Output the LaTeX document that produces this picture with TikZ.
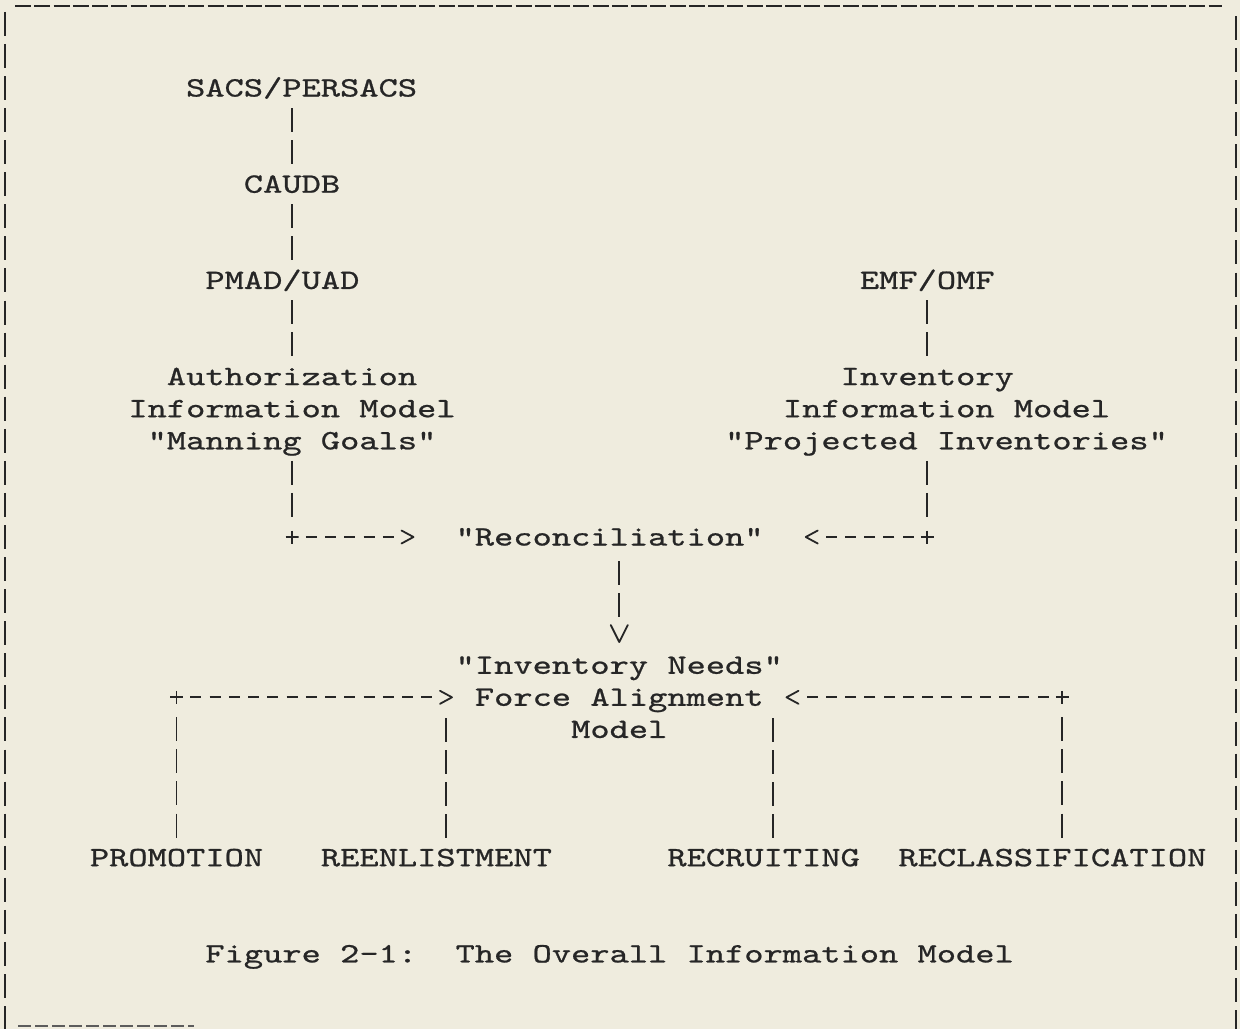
\documentclass[tikz,border=0pt]{standalone}
\usepackage{fontspec}
\usetikzlibrary{calc}
\newfontfamily\diagtt{lmmono10-regular.otf}[FakeStretch=1.3095,FakeBold=0.8]
\newcommand{\diagfont}{\diagtt\fontsize{28}{32}\selectfont\frenchspacing}
\definecolor{paper}{RGB}{239,236,222}
\definecolor{ink}{RGB}{38,38,38}
\pgfdeclarearrow{
  name = ChevH,
  setup code = {
    \pgfarrowssettipend{0pt}
    \pgfarrowssetlineend{-12pt}
    \pgfarrowssetbackend{-12pt}
    \pgfarrowsupperhullpoint{-12pt}{6.5pt}
    \pgfarrowsupperhullpoint{0pt}{0pt}
  },
  drawing code = {
    \pgfsetdash{}{0pt}
    \pgfsetroundjoin
    \pgfsetroundcap
    \pgfpathmoveto{\pgfpoint{-12pt}{6.5pt}}
    \pgfpathlineto{\pgfpointorigin}
    \pgfpathlineto{\pgfpoint{-12pt}{-6.5pt}}
    \pgfusepathqstroke
  }
}
\pgfdeclarearrow{
  name = ChevV,
  setup code = {
    \pgfarrowssettipend{0pt}
    \pgfarrowssetlineend{-17pt}
    \pgfarrowssetbackend{-17pt}
    \pgfarrowsupperhullpoint{-17pt}{8.5pt}
    \pgfarrowsupperhullpoint{0pt}{0pt}
  },
  drawing code = {
    \pgfsetdash{}{0pt}
    \pgfsetroundjoin
    \pgfsetroundcap
    \pgfpathmoveto{\pgfpoint{-17pt}{8.5pt}}
    \pgfpathlineto{\pgfpointorigin}
    \pgfpathlineto{\pgfpoint{-17pt}{-8.5pt}}
    \pgfusepathqstroke
  }
}
\tikzset{
  lbl/.style={anchor=base, inner sep=0pt, text=ink, font=\diagfont},
  pipe/.style={draw=ink, line width=1.8pt, dash pattern=on 24pt off 8.07pt},
  hdash/.style={draw=ink, line width=1.8pt, dash pattern=on 11pt off 8.25pt},
  plusnode/.style={minimum size=13pt, inner sep=0pt,
    path picture={\draw[ink, line width=1.8pt]
      (path picture bounding box.north) -- (path picture bounding box.south)
      (path picture bounding box.west) -- (path picture bounding box.east);}},
  framev/.style={draw=ink, line width=1.6pt, dash pattern=on 24pt off 8.07pt},
  frameh/.style={draw=ink, line width=2pt, dash pattern=on 16pt off 3.25pt},
}
\begin{document}
\begin{tikzpicture}[x=1pt,y=-1pt]
\useasboundingbox (0,0) rectangle (1240,1029);
\fill[paper] (0,0) rectangle (1240,1029);

% frame
\draw[frameh] (15,6) -- (1222,6);
\draw[frameh, draw=ink!75, dash pattern=on 13pt off 4pt] (18,1026) -- (194,1026);
\draw[framev] (5,11.9) -- (5,1029);
\draw[framev] (1236,16) -- (1236,1029);

% left column
\node[lbl] (sacs)  at (301.6,96.5)  {SACS/PERSACS};
\node[lbl] (caudb) at (292,192.7)   {CAUDB};
\node[lbl] (pmad)  at (282.4,288.9) {PMAD/UAD};
\node[lbl] (auth1) at (292,385.1)   {Authorization};
\node[lbl] (auth2) at (292,417.2)   {Information Model};
\node[lbl] (auth3) at (292,449.3)   {"Manning Goals"};

% right column
\node[lbl] (emf)  at (927.25,288.9) {EMF/OMF};
\node[lbl] (inv1) at (927.25,385.1) {Inventory};
\node[lbl] (inv2) at (946.5,417.2)  {Information Model};
\node[lbl] (inv3) at (946.5,449.3)  {"Projected Inventories"};

% middle
\node[lbl] (recon) at (609.6,545.5) {"Reconciliation"};
\node[plusnode] (pL) at (292,537) {};
\node[plusnode] (pR) at (927.25,537) {};
\node[lbl] (needs) at (619.25,673.8) {"Inventory Needs"};
\node[lbl] (force) at (619.25,705.8) {Force Alignment};
\node[lbl] (model) at (619.25,737.9) {Model};
\node[plusnode] (pFL) at (176.5,697.3) {};
\node[plusnode] (pFR) at (1062.25,697.3) {};

% bottom row
\node[lbl] (promo) at (176.5,866.2)  {PROMOTION};
\node[lbl] (reenl) at (436.4,866.2)  {REENLISTMENT};
\node[lbl] (recru) at (763.6,866.2)  {RECRUITING};
\node[lbl] (recla) at (1052.4,866.2) {RECLASSIFICATION};

\node[lbl] (caption) at (609.6,962.4) {Figure 2-1:\ \ The Overall Information Model};

% left chain
\draw[pipe] ($(sacs.base -| caudb.base)+(0,11.5)$) -- ($(caudb.base)+(0,-28.5)$);
\draw[pipe] ($(caudb.base)+(0,11.5)$) -- ($(pmad.base -| caudb.base)+(0,-28.5)$);
\draw[pipe] ($(pmad.base -| auth1.base)+(0,11.5)$) -- ($(auth1.base)+(0,-28.5)$);
\draw[pipe] ($(auth3.base -| pL.center)+(0,11.5)$) -- ($(pL.center)+(0,-20)$);
\draw[hdash, -ChevH, shorten <=13.75pt, shorten >=196.1pt] (pL.center) -- (pL.center -| recon.base);

% right chain
\draw[pipe] ($(emf.base)+(0,11.5)$) -- ($(inv1.base)+(0,-28.5)$);
\draw[pipe] ($(inv3.base -| pR.center)+(0,11.5)$) -- ($(pR.center)+(0,-20)$);
\draw[hdash, -ChevH, shorten <=13.75pt, shorten >=196.15pt] (pR.center) -- (pR.center -| recon.base);

% reconciliation to force alignment model
\draw[pipe, -ChevV] ($(recon.base -| needs.base)+(0,15.5)$) -- ($(needs.base)+(0,-31.8)$);

% inputs to force alignment model
\draw[hdash, -ChevH, shorten <=13.75pt, shorten >=167.25pt] (pFL.center) -- (pFL.center -| force.base);
\draw[hdash, -ChevH, shorten <=13.75pt, shorten >=167.25pt] (pFR.center) -- (pFR.center -| force.base);
\draw[pipe] ($(pFL.center)+(0,20)$) -- ($(promo.base -| pFL.center)+(0,-28.5)$);
\draw[pipe] ($(pFR.center)+(0,20)$) -- ($(recla.base -| pFR.center)+(0,-28.5)$);
\draw[pipe] ($(reenl.base)+(9.625,-28.5)$) -- ($(force.base -| reenl.base)+(9.625,11.5)$);
\draw[pipe] ($(recru.base)+(9.625,-28.5)$) -- ($(force.base -| recru.base)+(9.625,11.5)$);
\end{tikzpicture}
\end{document}
